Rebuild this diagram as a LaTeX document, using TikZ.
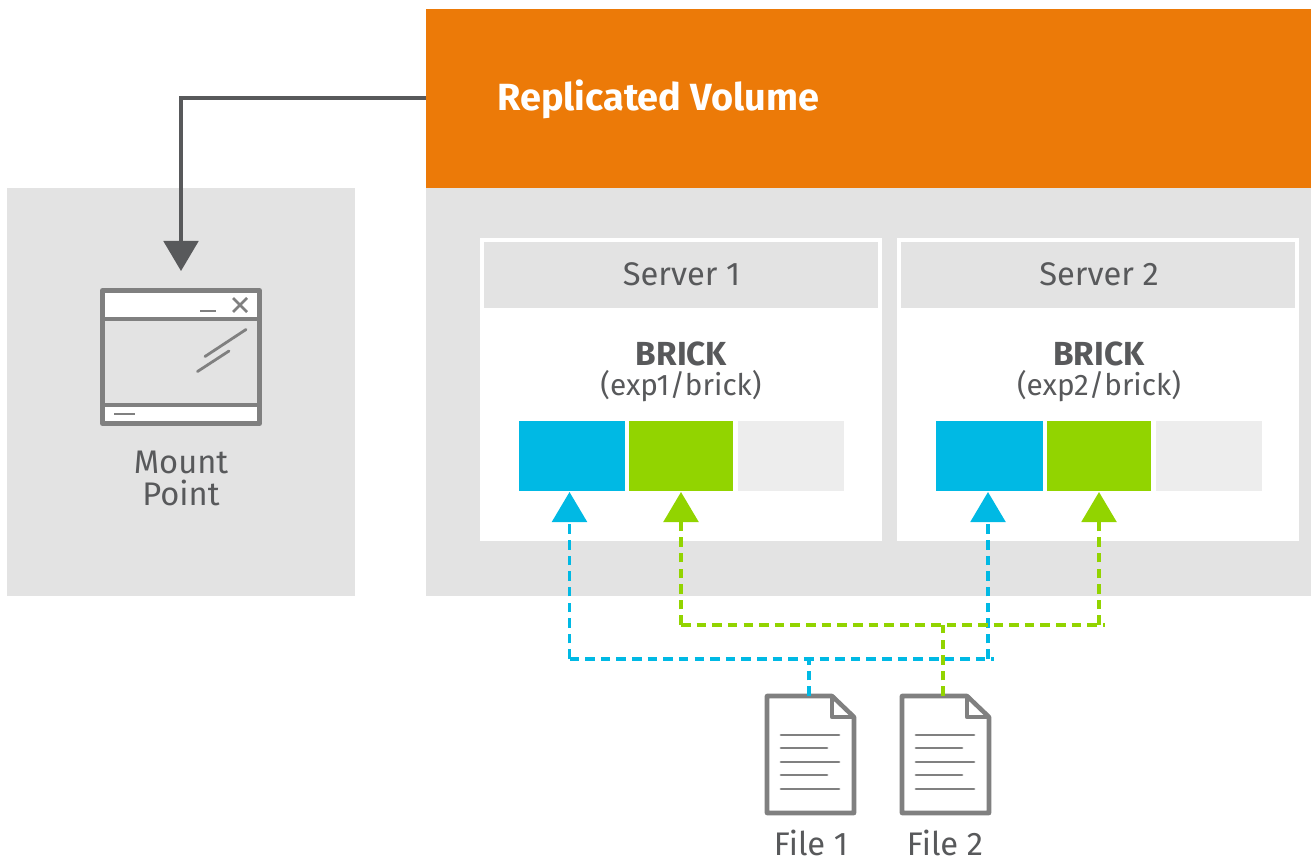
\documentclass[tikz,border=0pt]{standalone}
\usepackage{fontspec}
\setmainfont{Fira Sans}
\usetikzlibrary{arrows.meta,calc}
\definecolor{orangeC}{HTML}{EC7A08}
\definecolor{panelC}{HTML}{E3E3E3}
\definecolor{lightC}{HTML}{EDEDED}
\definecolor{blueC}{HTML}{00B9E4}
\definecolor{greenC}{HTML}{92D400}
\definecolor{inkC}{HTML}{58595B}
\definecolor{iconC}{HTML}{808080}
\newcommand{\pxbox}[5]{\node[#1,anchor=north west,minimum width=#4*0.75pt,minimum height=#5*0.75pt] (#2) at (#3) {};}
\tikzset{
  x=0.75pt,y=-0.75pt,
  flat/.style={inner sep=0pt,outer sep=0pt,draw=none},
  panel/.style={flat,fill=panelC},
  whitebox/.style={flat,fill=white},
  orangebox/.style={flat,fill=orangeC},
  bluebox/.style={flat,fill=blueC},
  greenbox/.style={flat,fill=greenC},
  lightbox/.style={flat,fill=lightC},
  label/.style={inner sep=0pt,text=inkC,font=\fontsize{24.5}{24.75}\selectfont,align=center},
  pathlabel/.style={inner sep=0pt,text=inkC,font=\fontsize{22.3}{24}\selectfont,align=center},
  boldlabel/.style={label,font=\fontsize{25}{26}\selectfont\bfseries},
  busline/.style={line width=2.5pt,dash pattern=on 7.2pt off 4.52pt},
  bluetip/.style={-{Triangle[length=22.5pt,width=26pt,fill=blueC]}},
  greentip/.style={-{Triangle[length=22.5pt,width=26pt,fill=greenC]}},
  iconline/.style={draw=iconC,line width=3.4pt,line join=round},
  thinline/.style={draw=iconC,line width=2.1pt,line cap=round},
}
\newcommand{\docicon}[2]{%
  \begin{scope}[shift={(#1,696)}]
    \node[flat,minimum width=87*0.75pt,minimum height=117*0.75pt,anchor=north west] (#2) at (0,0) {};
    \draw[iconline,fill=white] (0,0) -- (65,0) -- (87,21) -- (87,117) -- (0,117) -- cycle;
    \draw[iconline] (65,0) -- (65,21) -- (87,21);
    \draw[thinline] (14,39) -- (72,39);
    \draw[thinline] (14,52) -- (60,52);
    \draw[thinline] (14,66) -- (72,66);
    \draw[thinline] (14,79) -- (60,79);
    \draw[thinline] (14,93) -- (72,93);
  \end{scope}}
\begin{document}
\begin{tikzpicture}
\useasboundingbox (0,0) rectangle (1311,863);
\fill[white] (0,0) rectangle (1311,863);

% panels
\pxbox{panel}{mountpanel}{7,188}{348}{408}
\pxbox{panel}{volpanel}{426,188}{885}{408}
\pxbox{orangebox}{vol}{426,9}{885}{179}
\node[inner sep=0pt,anchor=base west,text=white,font=\fontsize{28.4}{30}\selectfont\bfseries] (voltitle) at (497,111) {Replicated Volume};

% servers
\pxbox{whitebox}{srvA}{480,238}{402}{303}
\pxbox{panel}{srvAh}{484,242}{394}{66}
\pxbox{whitebox}{srvB}{897,238}{402}{303}
\pxbox{panel}{srvBh}{901,242}{394}{66}
\node[label,anchor=base] (srvAt) at (681.5,286) {Server 1};
\node[label,anchor=base] (srvBt) at (1099,286) {Server 2};
\node[boldlabel,anchor=base] (brickA) at (681.5,365) {BRICK};
\node[pathlabel] (pathA) at (681,386) {(exp1/brick)};
\node[boldlabel,anchor=base] (brickB) at (1099,365) {BRICK};
\node[pathlabel] (pathB) at (1099,386) {(exp2/brick)};

% bricks
\pxbox{bluebox}{b1}{518.5,421}{106.5}{70}
\pxbox{greenbox}{g1}{629,421}{104}{70}
\pxbox{lightbox}{e1}{738,421}{106}{70}
\pxbox{bluebox}{b2}{936,421}{107}{70}
\pxbox{greenbox}{g2}{1047,421}{104}{70}
\pxbox{lightbox}{e2}{1156,421}{106}{70}

% mount point window
\node[flat,minimum width=157*0.75pt,minimum height=133*0.75pt,anchor=north west] (win) at (102.5,290.5) {};
\fill[white] (102.5,290.5) rectangle (259.5,319);
\fill[white] (102.5,405) rectangle (259.5,423.5);
\draw[iconline,line width=3.8pt] (102.5,290.5) rectangle (259.5,423.5);
\draw[iconline] (102.5,319) -- (259.5,319);
\draw[iconline] (102.5,405) -- (259.5,405);
\draw[thinline,line cap=butt] (200,311) -- (216,311);
\draw[thinline,line cap=butt] (233,298) -- (247,312);
\draw[thinline,line cap=butt] (247,298) -- (233,312);
\draw[thinline,line cap=butt] (114,414) -- (135,414);
\draw[thinline] (205,356.5) -- (246,329.5);
\draw[thinline] (197.5,371.5) -- (229,351);
\node[label,anchor=base] (mountT) at (181,473) {Mount};
\node[label,anchor=base] (pointT) at (181,505) {Point};

% files
\docicon{767}{f1}
\docicon{902}{f2}
\node[label,anchor=base] (f1t) at (811,855) {File 1};
\node[label,anchor=base] (f2t) at (945,855) {File 2};

% connector volume -> mount point
\coordinate (mounttip) at (181,271);
\draw[draw=inkC,line width=2.4pt,-{Triangle[length=22.5pt,width=26pt,fill=inkC]}] (vol.west |- 0,98) -| (mounttip);

% bus coordinates
\coordinate (busB) at (569.5,659);
\coordinate (busBend) at (994,659);
\coordinate (busG) at (681,625);
\coordinate (busGend) at (1105,625);
\coordinate (tipb1) at (569.5,492);
\coordinate (tipg1) at (681,492);
\coordinate (tipb2) at (988,492);
\coordinate (tipg2) at (1099,492);
\coordinate (stemB) at (809,659);
\coordinate (stemG) at (943,625);

% blue network
\draw[busline,draw=blueC,bluetip] (busB) -- (tipb1);
\draw[busline,draw=blueC] (busB) -- (busBend);
\draw[busline,draw=blueC,bluetip] (tipb2 |- busB) -- (tipb2);
\draw[busline,draw=blueC] (stemB |- f1.north) -- (stemB);
% green network
\draw[busline,draw=greenC,greentip] (busG) -- (tipg1);
\draw[busline,draw=greenC] (busG) -- (busGend);
\draw[busline,draw=greenC,greentip] (tipg2 |- busG) -- (tipg2);
\draw[busline,draw=greenC] (stemG |- f2.north) -- (stemG);
\end{tikzpicture}
\end{document}
